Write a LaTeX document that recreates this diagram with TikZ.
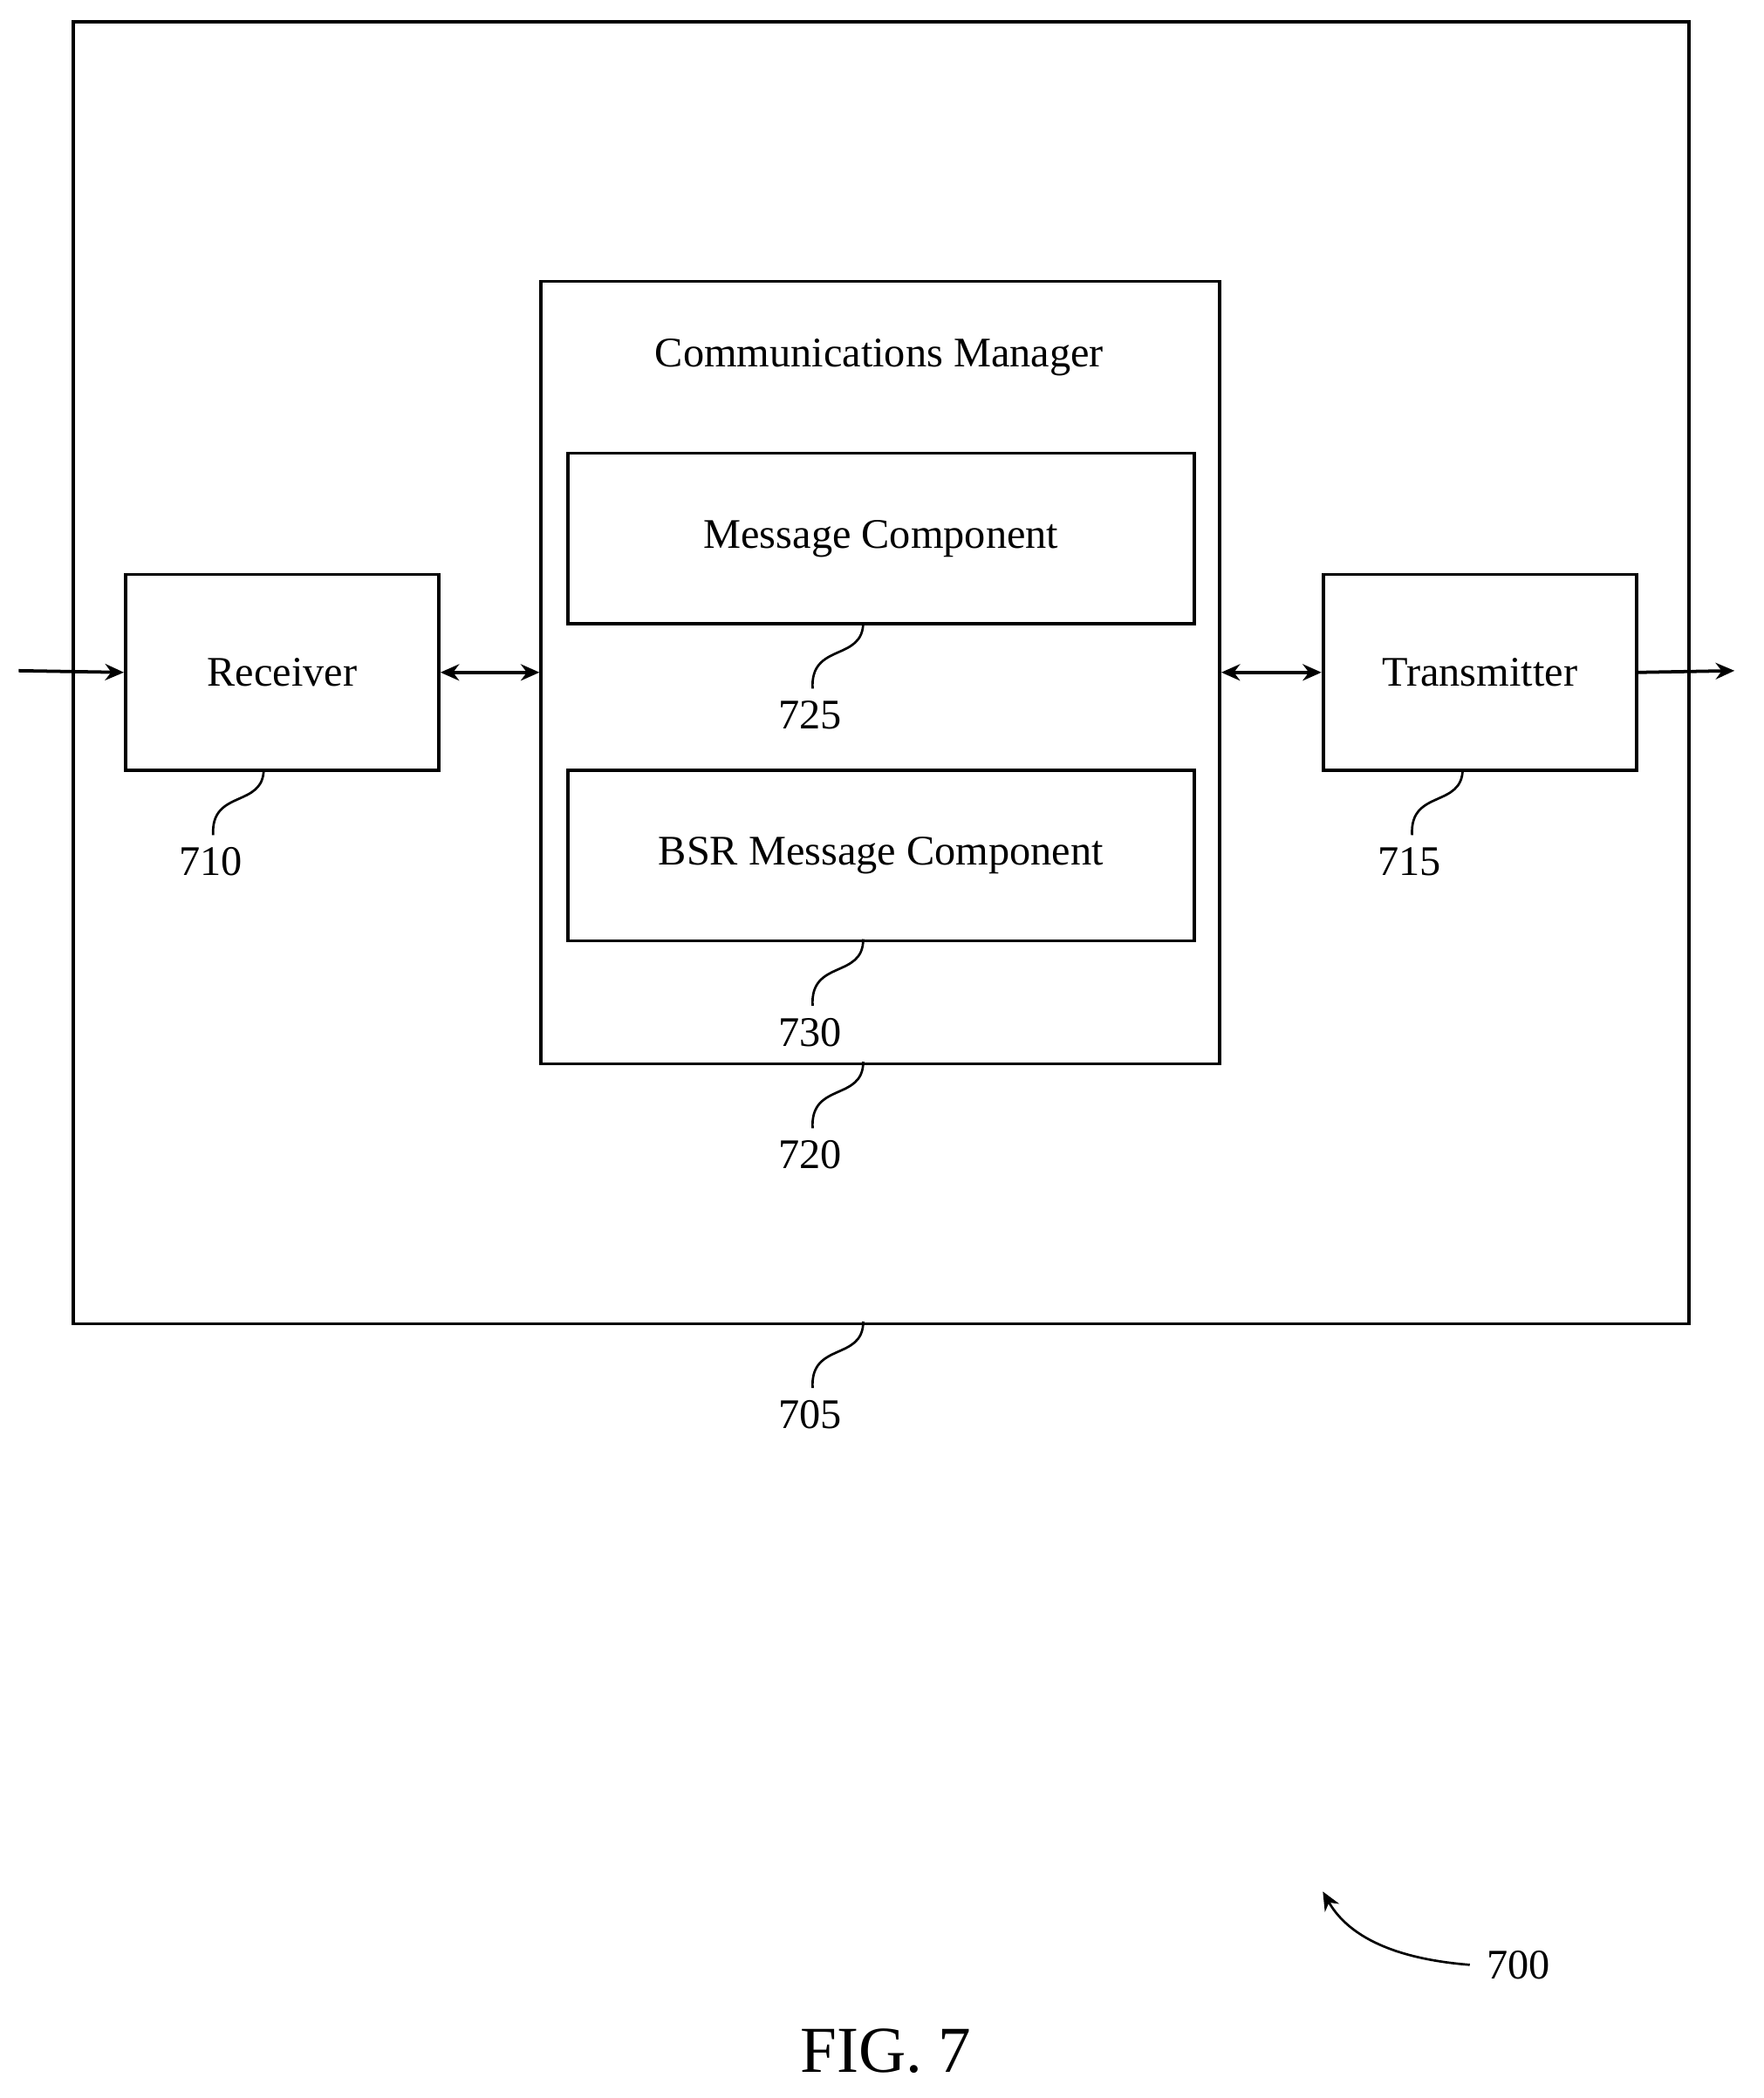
\documentclass[tikz,border=0pt]{standalone}
\usepackage{fontspec}
\setmainfont{Liberation Serif}
\usetikzlibrary{arrows.meta}
\begin{document}
\begin{tikzpicture}[x=0.01cm, y=-0.01cm, line width=0.7pt,
  font=\fontsize{9}{11}\selectfont]
  % Define styles
  \tikzset{block/.style={rectangle, draw, inner sep=0pt, anchor=north west},
    arrow/.style={-{Stealth[length=4pt,width=3.5pt]}},
    darrow/.style={{Stealth[length=4pt,width=3.5pt]}-{Stealth[length=4pt,width=3.5pt]}},
    lead/.style={line width=0.5pt}}
  \useasboundingbox (0,0) rectangle (1324,1575);

  % Boxes
  \node[block, minimum width=12.12cm, minimum height=9.77cm] (dev) at (54,15) {};
  \node[block, minimum width=2.35cm, minimum height=1.47cm] (rx) at (93,430) {};
  \node at (rx.center) {Receiver};
  \node[block, minimum width=5.09cm, minimum height=5.87cm] (cm) at (405,210) {};
  \node (cmt) at (660,268) {Communications Manager};
  \node[block, minimum width=4.70cm, minimum height=1.28cm] (msg) at (425,339) {};
  \node at (msg.center) {Message Component};
  \node[block, minimum width=4.70cm, minimum height=1.28cm] (bsr) at (425,577) {};
  \node at (bsr.center) {BSR Message Component};
  \node[block, minimum width=2.35cm, minimum height=1.47cm] (tx) at (992,430) {};
  \node at (tx.center) {Transmitter};

  % Connectors
  \coordinate (in) at (14,503.5);
  \coordinate (out) at (1302,503.5);
  \draw[arrow] (in) -- (rx.west);
  \draw[darrow] (rx.east) -- (cm.west |- rx.east);
  \draw[darrow] (cm.east |- tx.west) -- (tx.west);
  \draw[arrow] (tx.east) -- (out);

  % Reference numerals
  \foreach \nm/\x/\y/\lbl in {rx/198/577/710, tx/1098/577/715, msg/648/467/725,
      bsr/648/705/730, cm/648/797/720, dev/648/992/705} {
    \draw[lead] (\x,\y) .. controls (\x,\y+30) and (\x-40,\y+15) .. (\x-38,\y+50);
    \node (n\lbl) at (\x-40,\y+70) {\lbl};
  }

  \node (n700) at (1140,1475) {700};
  \draw[lead, -{Stealth[length=4pt,width=3.5pt]}] (n700.west) .. controls (1040,1470) and (1010,1450) .. (993,1420);
  \node[font=\fontsize{14}{16}\selectfont] (fig) at (665,1540) {FIG. 7};
\end{tikzpicture}
\end{document}
